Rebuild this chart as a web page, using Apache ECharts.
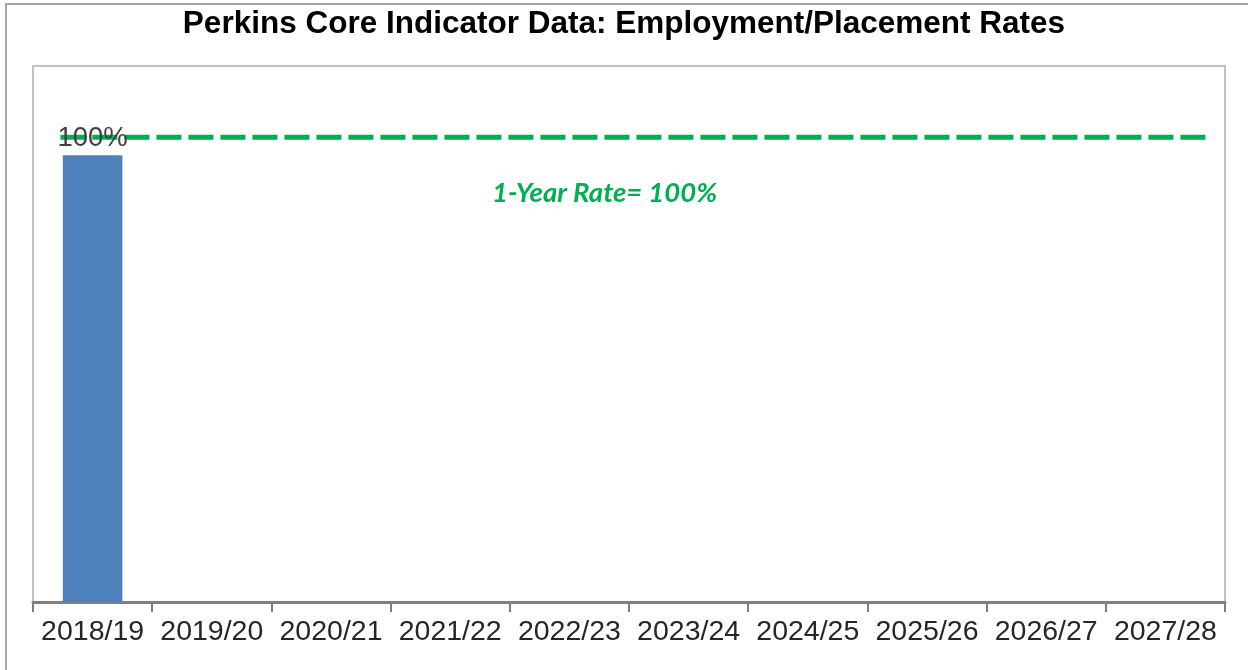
<!DOCTYPE html>
<html><head><meta charset="utf-8">
<script src="https://cdn.jsdelivr.net/npm/echarts@6/dist/echarts.min.js"></script>
<style>html,body{margin:0;padding:0;background:#fff}#c{width:1248px;height:670px}</style>
</head><body><div id="c"></div>
<script>
const titleText = 'Perkins Core Indicator Data: Employment/Placement Rates';
const categories = ['2018/19','2019/20','2020/21','2021/22','2022/23','2023/24','2024/25','2025/26','2026/27','2027/28'];
const rates = [1.0, null, null, null, null, null, null, null, null, null];
const targetRate = 1.0;
const targetSpan = [0.23, 9.85];
const targetLabel = '1-Year Rate= 100%';

const chart = echarts.init(document.getElementById('c'), null, {renderer:'canvas'});
chart.setOption({
  animation:false,
  backgroundColor:'#fff',
  title:{text:titleText,left:'center',top:3,textStyle:{fontFamily:'Liberation Sans, Arial',fontWeight:'bold',fontSize:31.5,color:'#000'}},
  grid:{left:33,right:23,top:66,bottom:68,show:true,borderColor:'#c0c0c0',borderWidth:2,backgroundColor:'#fff'},
  xAxis:[{type:'category',data:categories,boundaryGap:true,
    axisLine:{lineStyle:{color:'#7f7f7f',width:3}},
    axisTick:{show:true,length:10,lineStyle:{color:'#7f7f7f',width:2}},
    axisLabel:{fontFamily:'Liberation Sans, Arial',fontSize:28.5,color:'#262626',margin:16,interval:0}},
   {type:'value',min:0,max:10,show:false}],
  yAxis:[{type:'value',min:0,max:1.2,show:false,splitLine:{show:false}},
         {type:'value',min:0,max:1.153,show:false,splitLine:{show:false}}],
  graphic:[
    {type:'rect',shape:{x:6,y:4,width:1300,height:700},style:{fill:'none',stroke:'#a6a6a6',lineWidth:2},silent:true,z:-1},
    {type:'text',left:492,top:180,style:{text:targetLabel,fill:'#00B050',font:'italic bold 27.5px Lato, "Open Sans", sans-serif'}}
  ],
  series:[
    {type:'bar',data:rates,barWidth:'50%',itemStyle:{color:'#4F81BD'},
     label:{show:true,position:'top',distance:3,formatter:p=>Math.round(p.value*100)+'%',fontFamily:'Liberation Sans, Arial',fontSize:27.5,color:'#404040'},z:2},
    {type:'line',xAxisIndex:1,yAxisIndex:1,data:[[targetSpan[0],targetRate],[targetSpan[1],targetRate]],
     symbol:'none',lineStyle:{color:'#00B050',width:5,type:[25,7]},z:1}
  ]
});
</script></body></html>
